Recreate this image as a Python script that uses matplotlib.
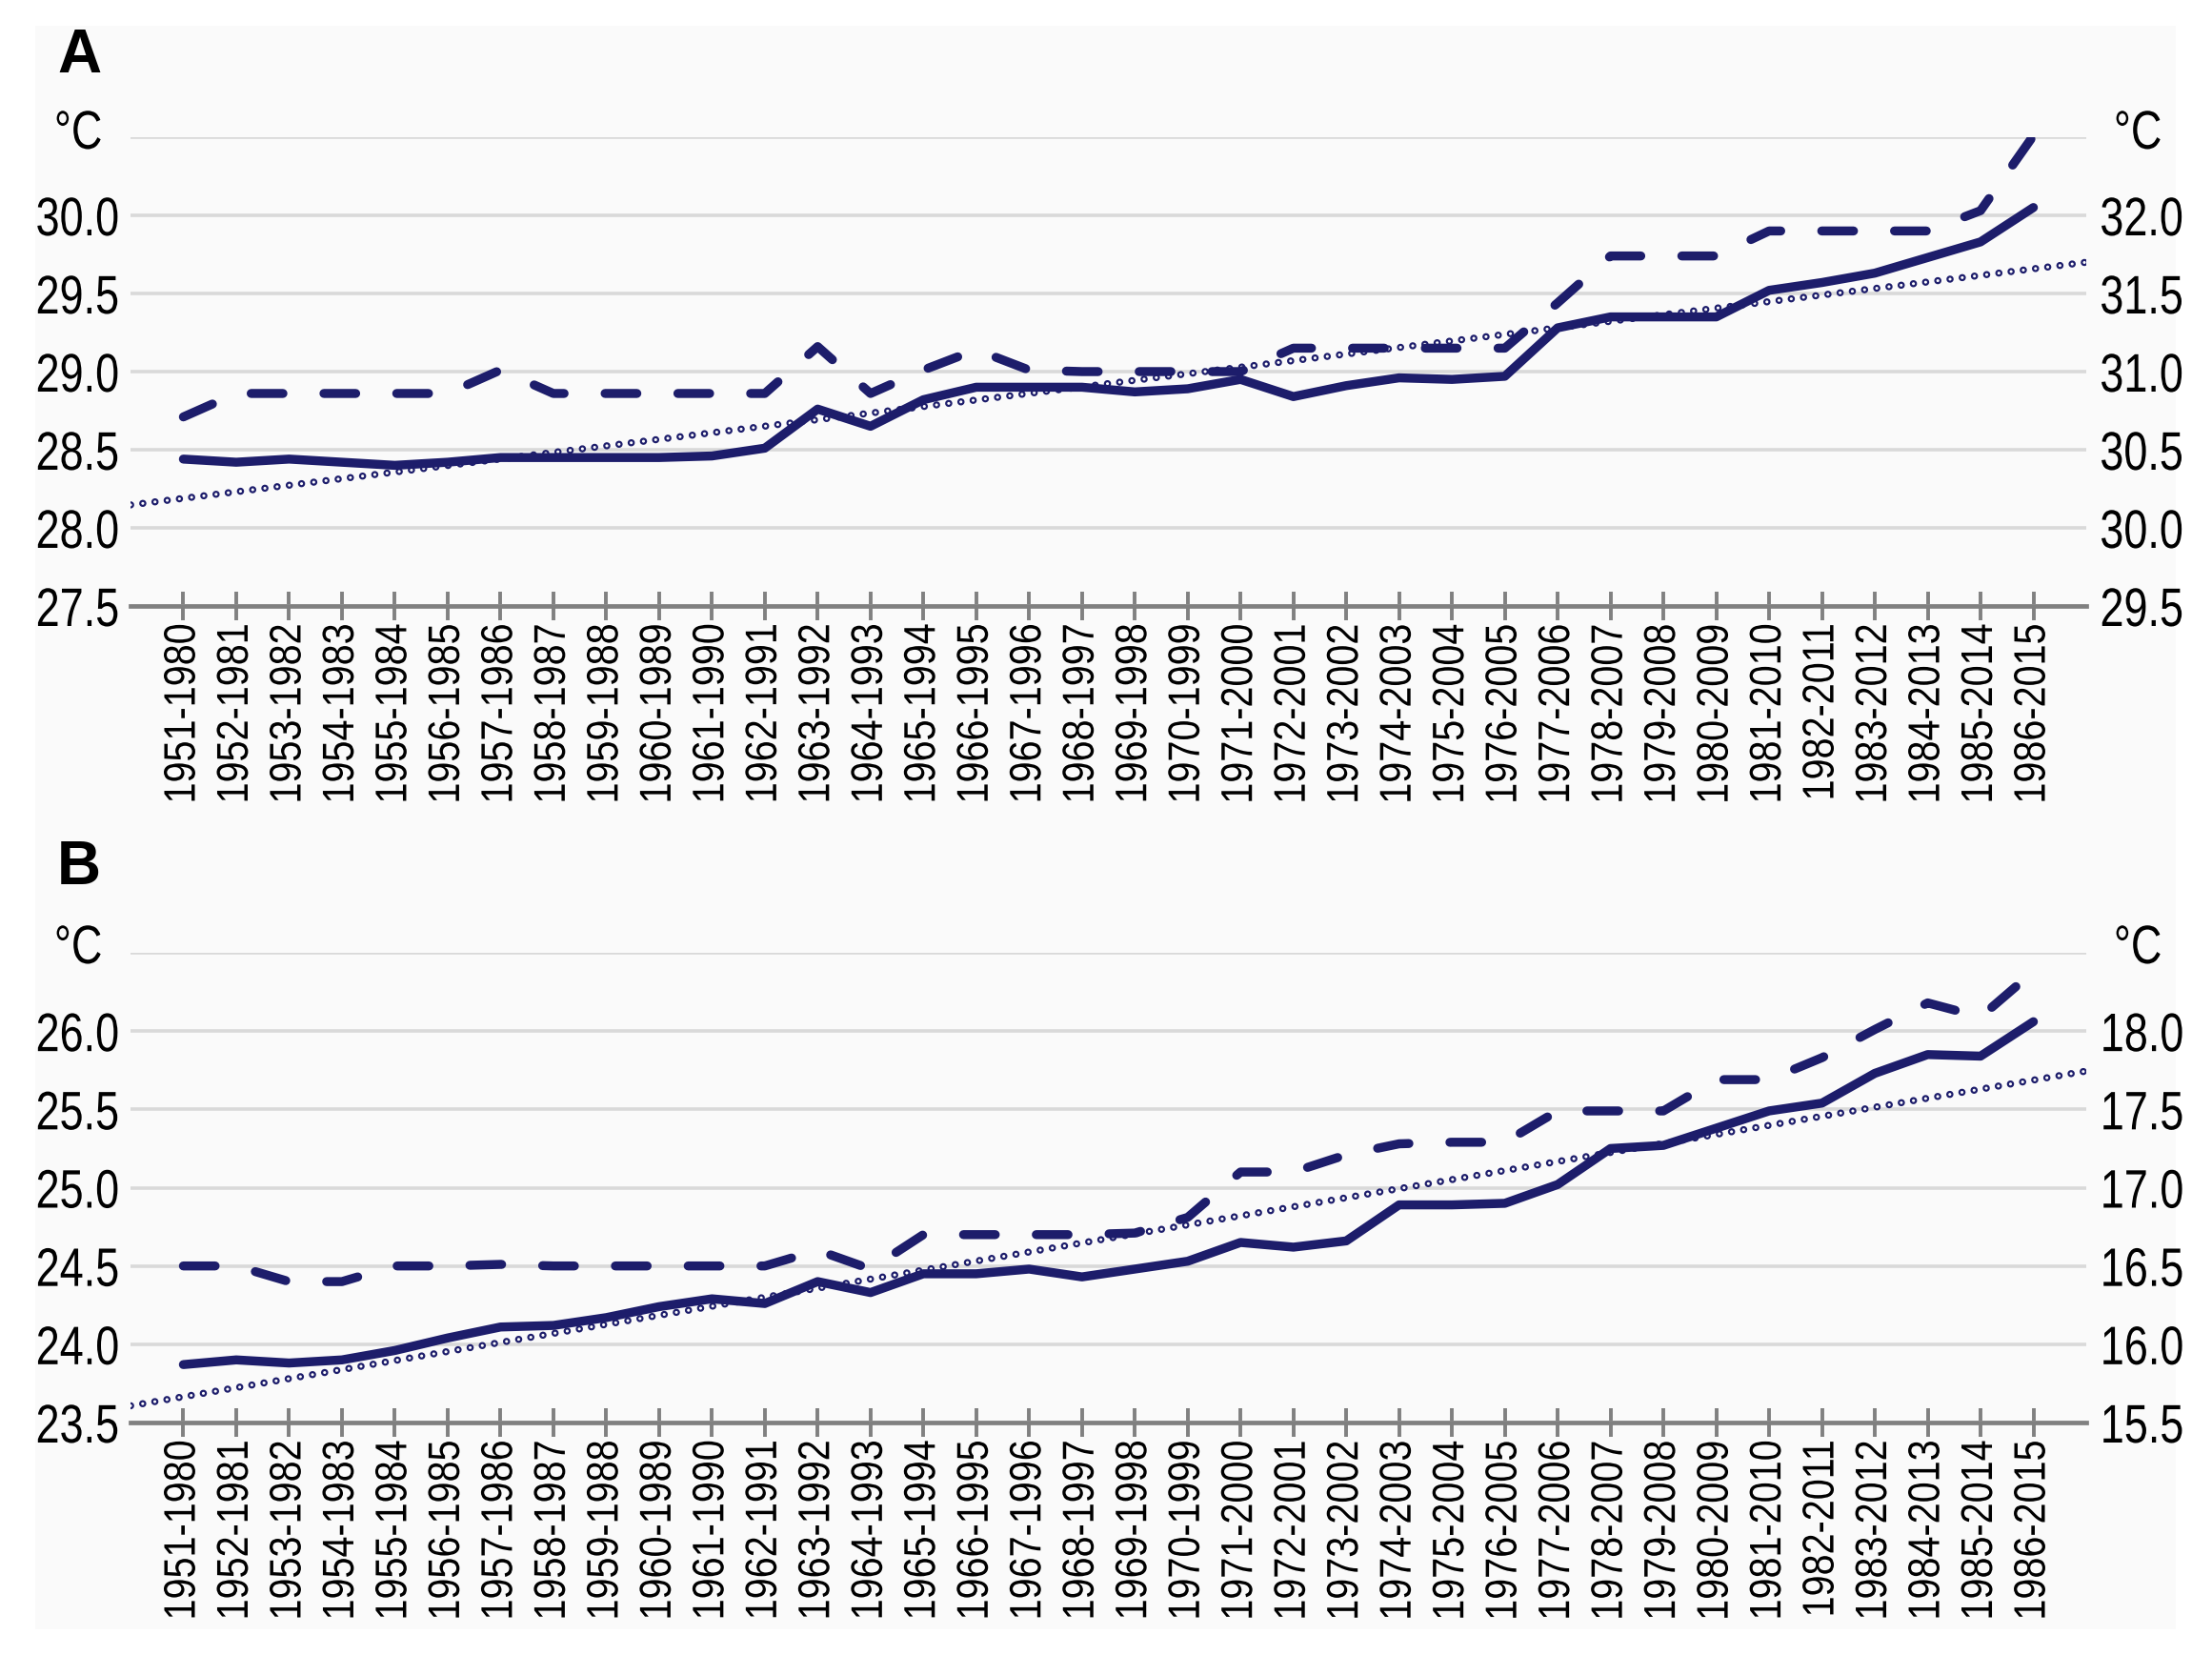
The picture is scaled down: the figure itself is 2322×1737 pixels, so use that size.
import numpy as np
import matplotlib
matplotlib.use('Agg')
import matplotlib.pyplot as plt
from matplotlib.patches import Rectangle
from matplotlib.patheffects import AbstractPathEffect
from matplotlib.transforms import Affine2D

# 30-year periods
periods = ['1951-1980', '1952-1981', '1953-1982', '1954-1983', '1955-1984', '1956-1985',
           '1957-1986', '1958-1987', '1959-1988', '1960-1989', '1961-1990', '1962-1991',
           '1963-1992', '1964-1993', '1965-1994', '1966-1995', '1967-1996', '1968-1997',
           '1969-1998', '1970-1999', '1971-2000', '1972-2001', '1973-2002', '1974-2003',
           '1975-2004', '1976-2005', '1977-2006', '1978-2007', '1979-2008', '1980-2009',
           '1981-2010', '1982-2011', '1983-2012', '1984-2013', '1985-2014', '1986-2015']

# panel A: solid on left axis, dashed on right axis
a_solid = [28.44, 28.42, 28.44, 28.42, 28.40, 28.42, 28.45, 28.45, 28.45, 28.45, 28.46, 28.51,
           28.76, 28.65, 28.82, 28.90, 28.90, 28.90, 28.87, 28.89, 28.95, 28.84, 28.91, 28.96,
           28.95, 28.97, 29.28, 29.35, 29.35, 29.35, 29.52, 29.57, 29.63, 29.73, 29.83, 30.05]
a_dashed = [30.71, 30.86, 30.86, 30.86, 30.86, 30.86, 31.01, 30.86, 30.86, 30.86, 30.86, 30.86,
            31.16, 30.86, 31.01, 31.14, 31.01, 31.00, 31.00, 31.00, 31.00, 31.15, 31.15, 31.15,
            31.15, 31.15, 31.44, 31.74, 31.74, 31.74, 31.90, 31.90, 31.90, 31.90, 32.03, 32.51]

# panel B
b_solid = [23.87, 23.90, 23.88, 23.90, 23.96, 24.04, 24.11, 24.12, 24.17, 24.24, 24.29, 24.26,
           24.40, 24.33, 24.45, 24.45, 24.48, 24.43, 24.48, 24.53, 24.65, 24.62, 24.66, 24.89,
           24.89, 24.90, 25.02, 25.25, 25.27, 25.38, 25.49, 25.54, 25.73, 25.85, 25.84, 26.06]
b_dashed = [16.50, 16.50, 16.40, 16.40, 16.50, 16.50, 16.51, 16.50, 16.50, 16.50, 16.50, 16.50,
            16.60, 16.48, 16.70, 16.70, 16.70, 16.70, 16.71, 16.81, 17.10, 17.10, 17.21, 17.28,
            17.29, 17.29, 17.49, 17.49, 17.49, 17.69, 17.69, 17.83, 18.01, 18.18, 18.09, 18.38]

a_left = [27.5, 28.0, 28.5, 29.0, 29.5, 30.0, 30.5]
a_right = [29.5, 30.0, 30.5, 31.0, 31.5, 32.0, 32.5]
b_left = [23.5, 24.0, 24.5, 25.0, 25.5, 26.0, 26.5]
b_right = [15.5, 16.0, 16.5, 17.0, 17.5, 18.0, 18.5]

navy = '#1d1d6b'
plt.rcParams['font.family'] = ['Liberation Sans', 'DejaVu Sans']
plt.rcParams['lines.scale_dashes'] = False


class Condense(AbstractPathEffect):
    """squeeze glyphs horizontally (the reference uses a narrow font)"""
    def __init__(self, sx, anchor='center'):
        super().__init__()
        self.sx = sx
        self.anchor = anchor

    def draw_path(self, renderer, gc, tpath, affine, rgbFace=None):
        ext = tpath.get_extents()
        if self.anchor == 'left':
            x0 = ext.x0
        elif self.anchor == 'right':
            x0 = ext.x1
        else:
            x0 = (ext.x0 + ext.x1) / 2
        t = Affine2D().translate(-x0, 0).scale(self.sx, 1).translate(x0, 0) + affine
        renderer.draw_path(gc, tpath, t, rgbFace)


W, H = 2322, 1737
fig = plt.figure(figsize=(W / 100, H / 100), dpi=100, facecolor='white')
fig.patches.append(Rectangle((37 / W, 1 - 1710 / H), (2284 - 37) / W, (1710 - 27) / H,
                             transform=fig.transFigure, facecolor='#fafafa',
                             edgecolor='none', zorder=-10))


def panel(rect, solid, dashed, left_ticks, right_ticks, letter, letter_y, unit_y):
    ax = fig.add_axes(rect)
    ax.patch.set_alpha(0)
    x = np.arange(len(periods))

    # linear trend of the solid series
    k, b = np.polyfit(x, solid, 1)
    tx = np.array([-1, len(periods)])
    ax.plot(tx, k * tx + b, color=navy, lw=5.4, dashes=(0.1, 9.2),
            dash_capstyle='round', zorder=2)
    ax.plot(tx, k * tx + b, color='white', lw=2.2, dashes=(0.1, 9.2),
            dash_capstyle='round', zorder=2.1)
    ax.plot(x, solid, color=navy, lw=6.8, solid_joinstyle='round',
            solid_capstyle='round', zorder=3)

    ax.set_xlim(-1, len(periods))
    ax.set_ylim(left_ticks[0], left_ticks[-1])
    ax.set_yticks(left_ticks)
    ylabs = ax.set_yticklabels([f'{v:.1f}' for v in left_ticks[:-1]] + [''])
    ax.set_xticks(x)
    xlabs = ax.set_xticklabels(periods, rotation=90)
    ax.grid(axis='y', color='#d9d9d9', lw=2.6)
    ax.set_axisbelow(True)
    for s in ['top', 'left', 'right']:
        ax.spines[s].set_visible(False)
    ax.spines['bottom'].set_color('#808080')
    ax.spines['bottom'].set_linewidth(3.4)
    ax.tick_params(axis='y', length=0, pad=8, labelsize=41)
    ax.tick_params(axis='x', direction='inout', length=22, width=2.8, color='#808080',
                   labelsize=33.5, pad=2)
    for t in ylabs:
        t.set_path_effects([Condense(0.79, 'right')])
    for t in xlabs:
        t.set_path_effects([Condense(0.85, 'right')])

    ax2 = ax.twinx()
    ax2.plot(x, dashed, color=navy, lw=6.8, dashes=(24, 31), dash_capstyle='round',
             dash_joinstyle='round', zorder=4)
    ax2.set_ylim(right_ticks[0], right_ticks[-1])
    ax2.set_yticks(right_ticks)
    rlabs = ax2.set_yticklabels([f'{v:.1f}' for v in right_ticks[:-1]] + [''])
    for s in ['top', 'left', 'right', 'bottom']:
        ax2.spines[s].set_visible(False)
    ax2.tick_params(axis='y', length=0, pad=10, labelsize=41)
    for t in rlabs:
        t.set_path_effects([Condense(0.79, 'left')])

    fig.text(60 / W, 1 - letter_y / H, letter, fontsize=46, fontweight='bold',
             ha='left', va='baseline')
    for ux in (82, 2244):
        u = fig.text(ux / W, 1 - unit_y / H, '°C', fontsize=41, ha='center', va='center')
        u.set_path_effects([Condense(0.79, 'center')])
    return ax


panel([137 / W, 1 - 636 / H, (2190 - 137) / W, (636 - 144) / H],
      a_solid, a_dashed, a_left, a_right, 'A', 76, 141)
panel([137 / W, 1 - 1493 / H, (2190 - 137) / W, (1493 - 1000) / H],
      b_solid, b_dashed, b_left, b_right, 'B', 928, 996)

fig.savefig('out.png', dpi=100, facecolor=fig.get_facecolor())
